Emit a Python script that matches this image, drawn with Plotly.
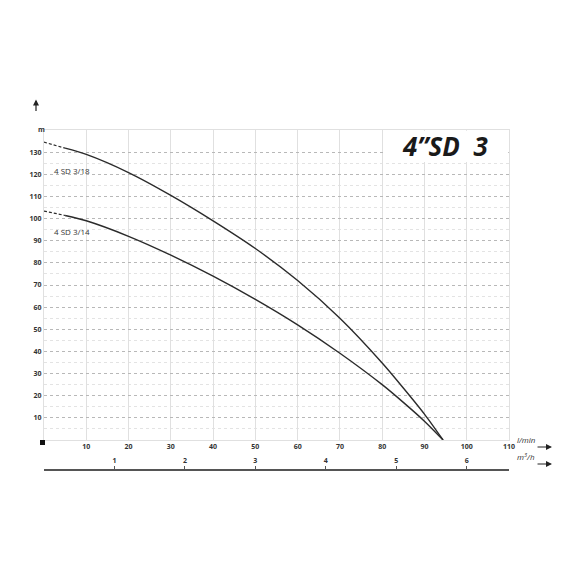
import plotly.graph_objects as go

# ---- data ----
flow_lmin = [0, 5, 10, 20, 30, 40, 50, 60, 70, 80, 85, 90, 94.4]
head_3_18 = [134.5, 131.8, 129, 120.8, 110.5, 99, 86.5, 72, 55, 34.8, 23.5, 11.7, 0]
head_3_14 = [103.4, 101.4, 99, 92, 83.5, 74, 63.5, 52, 39.2, 25, 17, 8.5, 0]
series_names = ["4 SD 3/18", "4 SD 3/14"]

x_ticks_lmin = [10, 20, 30, 40, 50, 60, 70, 80, 90, 100, 110]
y_ticks_major = [10, 20, 30, 40, 50, 60, 70, 80, 90, 100, 110, 120, 130]
y_ticks_minor = [5, 15, 25, 35, 45, 55, 65, 75, 85, 95, 105, 115, 125]
x_ticks_m3h = [1, 2, 3, 4, 5, 6]
lmin_per_m3h = 1000 / 60

title_text = "4\u201dSD  3"

LINE = "#2b2b2b"
TXT = "#333333"
FONT = "Open Sans"

fig = go.Figure()

for heads, name in zip([head_3_18, head_3_14], series_names):
    # dashed extrapolated start
    fig.add_trace(go.Scatter(x=flow_lmin[:2], y=heads[:2], mode="lines",
                             line=dict(color=LINE, width=1.2, dash="3px,2px"),
                             showlegend=False, hoverinfo="skip"))
    fig.add_trace(go.Scatter(x=flow_lmin[1:], y=heads[1:], mode="lines",
                             line=dict(color=LINE, width=1.4, shape="spline", smoothing=0.8),
                             name=name, showlegend=False))

# dummy trace on secondary axis
fig.add_trace(go.Scatter(x=[0], y=[None], xaxis="x2", yaxis="y", showlegend=False,
                         hoverinfo="skip"))

tickfont = dict(family=FONT, size=7, color=TXT, weight="bold")

fig.update_layout(
    width=562, height=562,
    margin=dict(l=36, r=61, t=122, b=100),
    paper_bgcolor="white", plot_bgcolor="white",
    showlegend=False,
    xaxis=dict(range=[0, 110], tickvals=x_ticks_lmin, showgrid=True, gridcolor="#e0e0e0",
               gridwidth=1, zeroline=False, showline=True, linecolor="#e0e0e0",
               linewidth=1, mirror=True, ticks="", tickfont=tickfont, automargin=False),
    yaxis=dict(range=[0, 140], domain=[0.0882, 1], tickvals=y_ticks_major,
               showgrid=True, gridcolor="#b8b8b8", griddash="dot", gridwidth=1,
               minor=dict(tickvals=y_ticks_minor, showgrid=True, gridcolor="#e3e3e3",
                          gridwidth=1, ticks=""),
               zeroline=False, showline=True, linecolor="#e0e0e0", linewidth=1,
               mirror=True, ticks="", tickfont=tickfont, automargin=False),
    xaxis2=dict(overlaying="x", anchor="free", position=0, side="top",
                range=[0, 110 / lmin_per_m3h], tickvals=x_ticks_m3h,
                showgrid=False, zeroline=False, showline=True, linecolor="#555",
                linewidth=1.5, ticks="outside", ticklen=3, tickcolor="#555",
                tickwidth=1, tickfont=tickfont, automargin=False),
)

# white box behind title
fig.add_shape(type="rect", xref="x", yref="y", x0=80.3, x1=109.8, y0=125.5, y1=139.7,
              fillcolor="white", line=dict(width=0), layer="between")
# small black square at origin corner
fig.add_shape(type="rect", xref="paper", yref="paper", xsizemode="pixel", ysizemode="pixel",
              xanchor=0, yanchor=0.0882, x0=-4, x1=1, y0=-5, y1=0,
              fillcolor="#111", line=dict(width=0), layer="above")

ann = []
ann.append(dict(x=94.8, y=133.0, xref="x", yref="y", text=title_text, showarrow=False,
                font=dict(family=FONT, size=26, color="#1a1a1a", weight="bold", style="italic")))
ann.append(dict(x=1.9, y=121.8, xref="x", yref="y", text=series_names[0], showarrow=False,
                xanchor="left", font=dict(family=FONT, size=8, color=TXT)))
ann.append(dict(x=1.9, y=94.2, xref="x", yref="y", text=series_names[1], showarrow=False,
                xanchor="left", font=dict(family=FONT, size=8, color=TXT)))
# y unit and arrow
ann.append(dict(x=-0.0172, y=1.0206, xref="paper", yref="paper", text="m", showarrow=False,
                font=dict(family=FONT, size=7, color=TXT, weight="bold")))
ann.append(dict(x=-0.0172, y=1.09, xref="paper", yref="paper", text="", showarrow=True,
                ax=0, ay=13, arrowhead=2, arrowsize=1, arrowwidth=1.2, arrowcolor="#222"))
# x units and arrows
ann.append(dict(x=1.013, y=0.0676, xref="paper", yref="paper", text="<i>l/min</i>",
                showarrow=False, xanchor="left", font=dict(family=FONT, size=8, color=TXT)))
ann.append(dict(x=1.013, y=0.0176, xref="paper", yref="paper", text="<i>m<sup>3</sup>/h</i>",
                showarrow=False, xanchor="left", font=dict(family=FONT, size=8, color=TXT)))
ann.append(dict(x=1.0925, y=0.0676, xref="paper", yref="paper", text="", showarrow=True,
                ax=-16, ay=0, arrowhead=2, arrowsize=1, arrowwidth=1.2, arrowcolor="#222"))
ann.append(dict(x=1.0925, y=0.0176, xref="paper", yref="paper", text="", showarrow=True,
                ax=-16, ay=0, arrowhead=2, arrowsize=1, arrowwidth=1.2, arrowcolor="#222"))
fig.update_layout(annotations=ann)

fig.write_html("out.html")
